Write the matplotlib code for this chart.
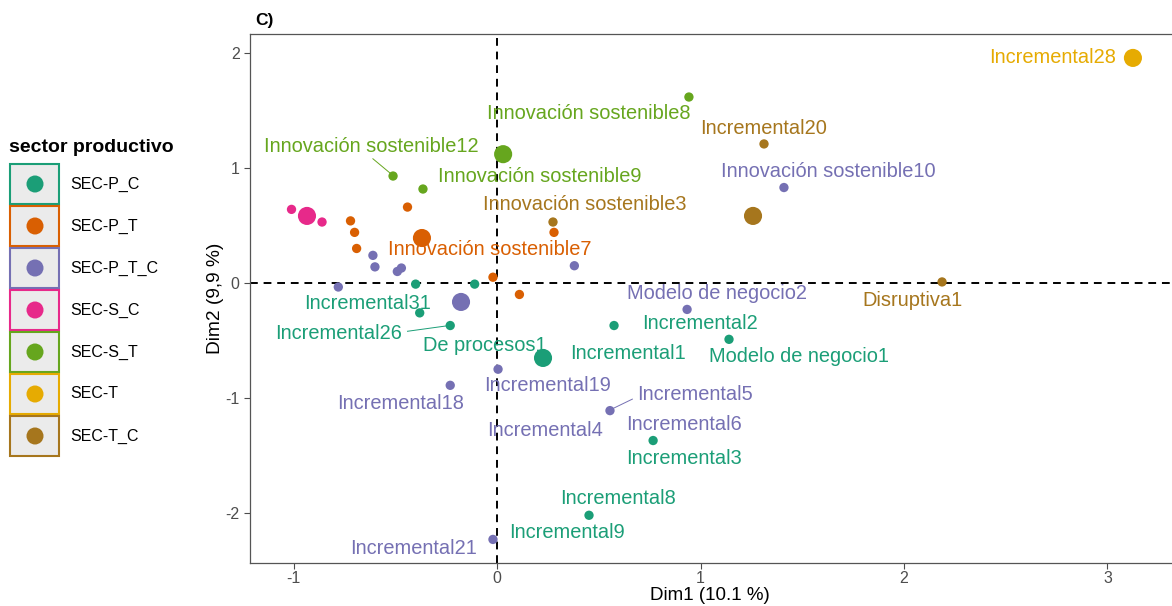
import matplotlib.pyplot as plt
from matplotlib.patches import Rectangle

plt.rcParams['font.family'] = ['Liberation Sans', 'DejaVu Sans']

# sector categories and colours (Dark2)
sectors = ["SEC-P_C", "SEC-P_T", "SEC-P_T_C", "SEC-S_C", "SEC-S_T", "SEC-T", "SEC-T_C"]
colors = ["#1B9E77", "#D95F02", "#7570B3", "#E7298A", "#66A61E", "#E6AB02", "#A6761D"]

# individual points per sector (Dim1, Dim2)
pc_x = [-0.40, -0.11, -0.38, -0.23, 0.575, 1.14, 0.767, 0.452]
pc_y = [-0.01, -0.01, -0.26, -0.37, -0.37, -0.49, -1.37, -2.02]
pt_x = [-0.44, -0.72, -0.70, -0.69, 0.28, -0.02, 0.11]
pt_y = [0.66, 0.54, 0.44, 0.30, 0.44, 0.05, -0.10]
ptc_x = [-0.61, -0.60, -0.47, -0.49, -0.78, 0.38, 0.934, 1.41, 0.005, -0.23, 0.555, -0.02]
ptc_y = [0.24, 0.14, 0.13, 0.10, -0.035, 0.15, -0.23, 0.83, -0.75, -0.89, -1.11, -2.23]
sc_x = [-1.01, -0.86]
sc_y = [0.64, 0.53]
st_x = [0.943, -0.511, -0.364]
st_y = [1.617, 0.93, 0.817]
t_x = [3.125]
t_y = [1.957]
tc_x = [1.312, 0.275, 2.187]
tc_y = [1.209, 0.53, 0.009]

# centroids (supplementary points)
cent_x = [0.226, -0.369, -0.177, -0.934, 0.03, 3.125, 1.258]
cent_y = [-0.652, 0.391, -0.165, 0.583, 1.12, 1.957, 0.583]

# labels: text, sector index, label position
lab_text = ["Incremental28", "Innovación sostenible8", "Incremental20", "Innovación sostenible12",
            "Innovación sostenible10", "Innovación sostenible9", "Innovación sostenible3",
            "Innovación sostenible7", "Modelo de negocio2", "Disruptiva1", "Incremental31",
            "Incremental2", "Incremental26", "De procesos1", "Incremental1", "Modelo de negocio1",
            "Incremental19", "Incremental5", "Incremental18", "Incremental4", "Incremental6",
            "Incremental3", "Incremental8", "Incremental9", "Incremental21"]
lab_sec = [5, 4, 6, 4, 2, 4, 6, 1, 2, 6, 0, 0, 0, 0, 0, 0, 2, 2, 2, 2, 2, 0, 0, 0, 2]
lab_x = [2.73, 0.45, 1.311, -0.62, 1.63, 0.21, 0.43, -0.035, 1.08, 2.04, -0.635,
         0.998, -0.78, -0.06, 0.645, 1.485, 0.25, 0.975, -0.475, 0.235, 0.92,
         0.92, 0.595, 0.345, -0.41]
lab_y = [1.96, 1.47, 1.345, 1.19, 0.965, 0.93, 0.68, 0.295, -0.09, -0.15, -0.175,
         -0.355, -0.44, -0.54, -0.61, -0.64, -0.89, -0.97, -1.05, -1.28, -1.23,
         -1.53, -1.87, -2.17, -2.31]

groups_x = [pc_x, pt_x, ptc_x, sc_x, st_x, t_x, tc_x]
groups_y = [pc_y, pt_y, ptc_y, sc_y, st_y, t_y, tc_y]

fig = plt.figure(figsize=(11.72, 6.06), dpi=100)
ax = fig.add_axes([250 / 1172, 43 / 606, 922 / 1172, 529 / 606])

ax.axvline(0, color="black", linestyle=(0, (4, 3)), linewidth=1.4, zorder=1)
ax.axhline(0, color="black", linestyle=(0, (4, 3)), linewidth=1.4, zorder=1)

for gx, gy, c in zip(groups_x, groups_y, colors):
    ax.scatter(gx, gy, s=45, color=c, edgecolors="none", zorder=3)
ax.scatter(cent_x, cent_y, s=170, c=colors, edgecolors="none", zorder=3)

for t, si, lx, ly in zip(lab_text, lab_sec, lab_x, lab_y):
    ax.text(lx, ly, t, color=colors[si], fontsize=14.4, ha="center", va="center", zorder=4)

# leader lines
ax.plot([-0.61, -0.515], [1.08, 0.94], color=colors[4], linewidth=0.7, zorder=2)
ax.plot([-0.44, -0.235], [-0.42, -0.37], color=colors[0], linewidth=0.7, zorder=2)
ax.plot([0.665, 0.56], [-1.01, -1.10], color=colors[2], linewidth=0.7, zorder=2)

ax.set_xlim(-1.214, 3.317)
ax.set_ylim(-2.435, 2.165)
ax.set_xticks([-1, 0, 1, 2, 3])
ax.set_xticklabels(["-1", "0", "1", "2", "3"])
ax.set_yticks([-2, -1, 0, 1, 2])
ax.set_yticklabels(["-2", "-1", "0", "1", "2"])
ax.tick_params(colors="#4D4D4D", labelsize=11.5, length=4)
ax.tick_params(axis="x", pad=2)
for s in ["left", "bottom", "top"]:
    ax.spines[s].set_color("#555555")
    ax.spines[s].set_linewidth(0.9)
ax.spines["right"].set_visible(False)
ax.set_xlabel("Dim1 (10.1 %)", fontsize=13.5)
ax.xaxis.set_label_coords(0.499, -0.045)
ax.set_ylabel("Dim2 (9,9 %)", fontsize=13.8, labelpad=1)
ax.text(-1.19, 2.22, "C)", fontsize=12.5, fontweight="bold", va="bottom")

# manual legend
lax = fig.add_axes([0, 0, 240 / 1172, 1])
lax.set_xlim(0, 240)
lax.set_ylim(606, 0)
lax.axis("off")
lax.text(9, 147, "sector productivo", fontsize=14, fontweight="bold", va="center")
for i, (name, c) in enumerate(zip(sectors, colors)):
    y0 = 164 + i * 42
    lax.add_patch(Rectangle((10, y0), 49, 40, facecolor="#EBEBEB", edgecolor=c, linewidth=1.5))
    lax.scatter([35], [y0 + 20], s=150, color=c, edgecolors="none")
    lax.text(70, y0 + 20, name, fontsize=11.5, va="center")

fig.savefig("out.png", dpi=100)
